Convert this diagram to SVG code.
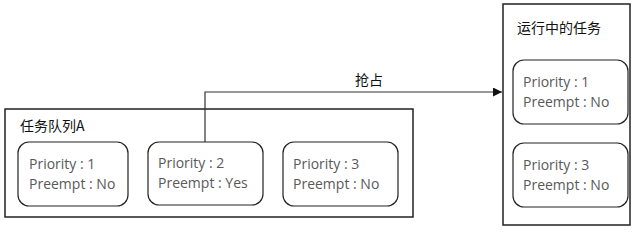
<svg xmlns="http://www.w3.org/2000/svg" width="635" height="232" viewBox="0 0 635 232">
<style>
.frame{fill:#fff;stroke:#222;stroke-width:1.5}
.task{fill:#fff;stroke:#222;stroke-width:1.2}
.t{font-family:"Open Sans","Noto Sans",sans-serif;font-size:14px;fill:#595959}
.h{font-family:"Noto Sans CJK SC",sans-serif;font-size:14px;fill:#111}
.conn{fill:none;stroke:#333;stroke-width:1.2}
</style>
<defs>
<marker id="arr" viewBox="0 0 10 10" refX="10" refY="5" markerWidth="9" markerHeight="9" markerUnits="userSpaceOnUse" orient="auto">
<path d="M0,0 L10,5 L0,10 z" fill="#111"/>
</marker>
</defs>
<rect width="635" height="232" fill="#fff"/>
<g id="queueA">
<rect class="frame" x="5" y="109" width="408" height="108"/>
<text class="h" x="20" y="131">任务队列A</text>
</g>
<g id="taskA1">
<rect class="task" x="18" y="142" width="110" height="64" rx="11"/>
<text class="t" x="29" y="169">Priority : 1</text>
<text class="t" x="29" y="189">Preempt : No</text>
</g>
<g id="taskA2">
<rect class="task" x="148" y="142" width="115" height="63" rx="11"/>
<text class="t" x="158" y="168">Priority : 2</text>
<text class="t" x="158" y="188">Preempt : Yes</text>
</g>
<g id="taskA3">
<rect class="task" x="283" y="142" width="115" height="64" rx="11"/>
<text class="t" x="293" y="169">Priority : 3</text>
<text class="t" x="293" y="189">Preempt : No</text>
</g>
<g id="running">
<rect class="frame" x="503" y="4" width="127" height="221"/>
<text class="h" x="517" y="33">运行中的任务</text>
</g>
<g id="taskR1">
<rect class="task" x="513" y="60" width="115" height="64" rx="11"/>
<text class="t" x="523" y="87">Priority : 1</text>
<text class="t" x="523" y="107">Preempt : No</text>
</g>
<g id="taskR3">
<rect class="task" x="513" y="143" width="115" height="64" rx="11"/>
<text class="t" x="523" y="170">Priority : 3</text>
<text class="t" x="523" y="190">Preempt : No</text>
</g>
<g id="connectors">
<path class="conn" d="M205,142 V92 H502" marker-end="url(#arr)"/>
<text class="h" x="369" y="85" text-anchor="middle">抢占</text>
</g>
</svg>
